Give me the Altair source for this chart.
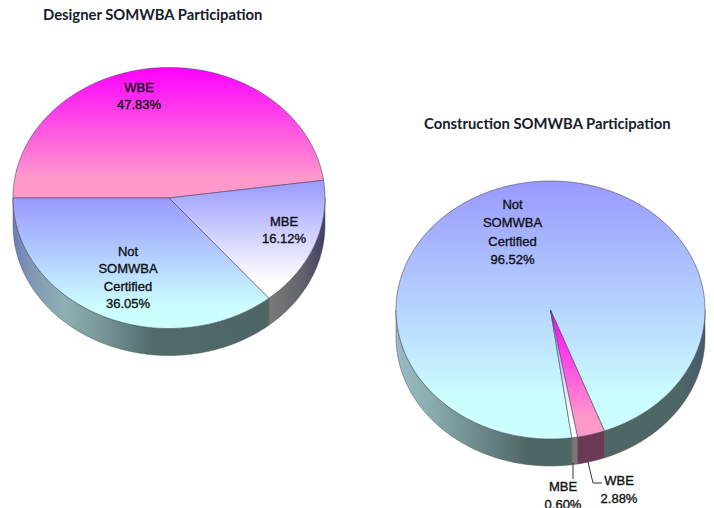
import math
import altair as alt
import pandas as pd

# ---- data ----
designer_labels = ["WBE", "MBE", "Not SOMWBA Certified"]
designer_values = [47.83, 16.12, 36.05]
construction_labels = ["Not SOMWBA Certified", "WBE", "MBE"]
construction_values = [96.52, 2.88, 0.60]
titles = ["Designer SOMWBA Participation", "Construction SOMWBA Participation"]

# ---- layout (page pixels, chart origin is at 8,8) ----
M = 8
DEPTH = 27
PIE_A = dict(cx=169, cy=198, rx=156, ry=130.5, start=270.0)
PIE_B = dict(cx=550.5, cy=310, rx=154.5, ry=129, start=172.1)

TOPS = {
    "WBE": ("#ff00ff", "#ff99cc"),
    "MBE": ("#9999ff", "#ffffff"),
    "Not SOMWBA Certified": ("#9999ff", "#ccffff"),
}


def pt(p, a, dy=0):
    t = math.radians(a)
    return [p["cx"] + p["rx"] * math.sin(t) - M, p["cy"] - p["ry"] * math.cos(t) + dy - M]


def arc(p, a, b, dy=0):
    n = max(2, int(abs(b - a)) + 2)
    return [pt(p, a + (b - a) * i / (n - 1), dy) for i in range(n)]


def shape(ring, fill, stroke="#4a4a5a", sw=0.6):
    ring = ring + [ring[0]]
    feat = {"type": "Feature", "properties": {}, "geometry": {"type": "Polygon", "coordinates": [ring]}}
    return alt.Chart(alt.Data(values=[feat])).mark_geoshape(
        filled=True, fill=fill, stroke=stroke, strokeWidth=sw
    ).project(type="identity", scale=1, translate=[0, 0])


def vgrad(c0, c1, stop=0.85):
    return alt.Gradient(
        gradient="linear", x1=0, x2=0, y1=0, y2=1,
        stops=[alt.GradientStop(offset=0, color=c0),
               alt.GradientStop(offset=stop, color=c1),
               alt.GradientStop(offset=1, color=c1)],
    )


def hgrad(*stops):
    return alt.Gradient(
        gradient="linear", x1=0, x2=1, y1=0, y2=0,
        stops=[alt.GradientStop(offset=o, color=c) for o, c in stops],
    )


def wall(p, a, b, fill):
    a, b = max(a, 90), min(b, 270)
    return shape(arc(p, a, b) + arc(p, b, a, DEPTH), fill, stroke="#555", sw=0.5)


def spans(p, labels, values):
    out, a = {}, p["start"]
    for lab, v in zip(labels, values):
        out[lab] = (a, a + v * 3.6)
        a += v * 3.6
    return out


layers = []
sa = spans(PIE_A, designer_labels, designer_values)
sb = spans(PIE_B, construction_labels, construction_values)

# left pie walls (angles wrap through 360)
m0, m1 = sa["MBE"]
n0, n1 = sa["Not SOMWBA Certified"]
layers.append(wall(PIE_A, m0 - 360, m1 - 360,
                   hgrad((0, "#7a7a7a"), (0.6, "#62626c"), (1, "#3f3f66"))))
layers.append(wall(PIE_A, n0 - 360, n1 - 360,
                   hgrad((0, "#6c7cb8"), (0.07, "#8098b5"), (0.2, "#8fb0b0"), (0.33, "#7a9a9a"),
                         (0.55, "#516a6a"), (1, "#4f6565"))))

# right pie walls
n0, n1 = sb["Not SOMWBA Certified"]
w0, w1 = sb["WBE"]
m0, m1 = sb["MBE"]
layers.append(wall(PIE_B, 90, w0 - 360, hgrad((0, "#4f6666"), (0.75, "#4f6666"), (1, "#465a6c"))))
layers.append(wall(PIE_B, w0 - 360, w1 - 360, "#6b3a55"))
layers.append(wall(PIE_B, m0 - 360, m1 - 360, "#777777"))
layers.append(wall(PIE_B, m1 - 360, 270,
                   hgrad((0, "#9ab8c4"), (0.14, "#8fb3b5"), (0.75, "#4f6666"), (1, "#4f6666"))))

# tops
for p, sp in ((PIE_A, sa), (PIE_B, sb)):
    for lab, (a, b) in sp.items():
        ring = [[p["cx"] - M, p["cy"] - M]] + arc(p, a, b)
        c0, c1 = TOPS[lab]
        layers.append(shape(ring, vgrad(c0, c1)))

# leader lines
lead = pd.DataFrame({
    "x": [573, 573, 588, 593, 602],
    "y": [463, 479, 462, 483, 483],
    "g": ["m", "m", "w", "w", "w"],
    "o": [0, 1, 0, 1, 2],
})
lead["x"] -= M
lead["y"] -= M
layers.append(alt.Chart(lead).mark_line(color="#333333", strokeWidth=1).encode(
    x=alt.X("x:Q", scale=None), y=alt.Y("y:Q", scale=None), detail="g:N", order="o:Q"))

# labels
rows = []
def lab(x, y, lines, lh=17.3):
    for i, t in enumerate(lines):
        rows.append({"x": x - M, "y": y + i * lh - M, "t": t})

f = "{:.2f}%".format
lab(139, 88, ["WBE", f(designer_values[0])])
lab(284, 222, ["MBE", f(designer_values[1])])
lab(128, 252, ["Not", "SOMWBA", "Certified", f(designer_values[2])])
lab(512.5, 205, ["Not", "SOMWBA", "Certified", f(construction_values[0])], lh=18.3)
lab(619, 480.5, ["WBE", f(construction_values[1])], lh=18)
lab(563, 487, ["MBE", f(construction_values[2])], lh=17.5)
labels = pd.DataFrame(rows)
layers.append(alt.Chart(labels).mark_text(
    font="Liberation Sans", fontSize=13, color="#111111", baseline="middle", align="center",
    stroke="#111111", strokeWidth=0.35,
).encode(x=alt.X("x:Q", scale=None), y=alt.Y("y:Q", scale=None), text="t:N"))

tt = pd.DataFrame({"x": [43 - M, 424 - M], "y": [16 - M, 125 - M], "t": titles})
layers.append(alt.Chart(tt).mark_text(
    font="Lato", fontSize=14.8, fontWeight="bold", color="#15202b", baseline="middle", align="left"
).encode(x=alt.X("x:Q", scale=None), y=alt.Y("y:Q", scale=None), text="t:N"))

chart = alt.layer(*layers).properties(
    width=698, height=500, padding=0, background="white",
    autosize=alt.AutoSizeParams(type="none"),
).configure_view(stroke=None)

chart.save("out.html", embed_options={"renderer": "svg", "actions": False})
